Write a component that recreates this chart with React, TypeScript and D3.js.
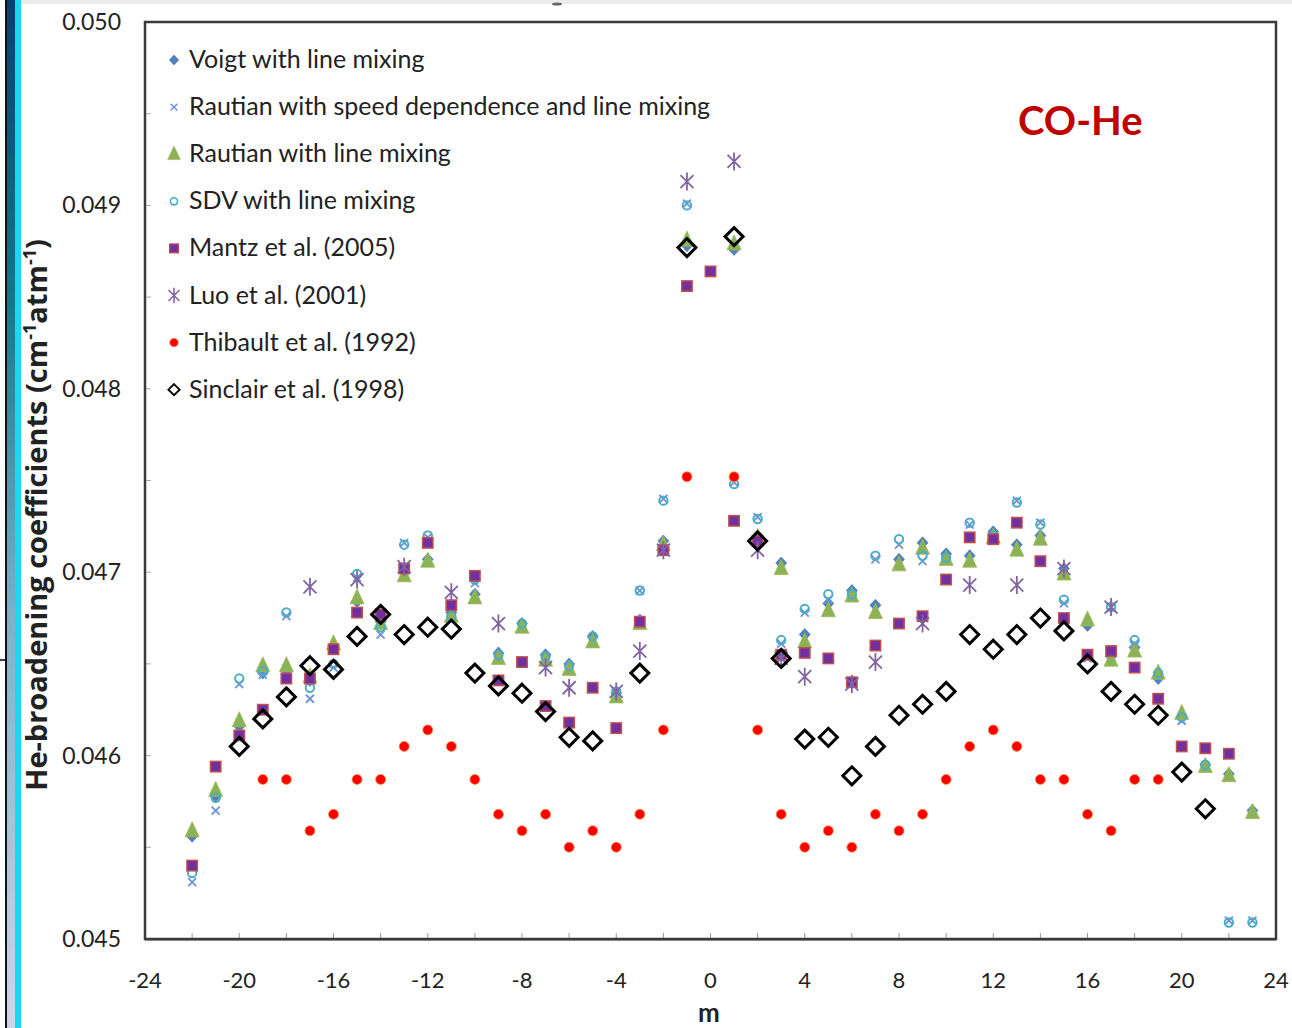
import React from "react";
import * as d3 from "d3";

// Rotational quantum number m and He-broadening coefficients (cm-1 atm-1)
type Pt = [number, number];

const voigt: Pt[] = [
  [-22, 0.04556], [-21, 0.04578], [-20, 0.04616], [-19, 0.04645], [-18, 0.04646], [-17, 0.04641],
  [-16, 0.04659], [-15, 0.04684], [-14, 0.04673], [-13, 0.047], [-12, 0.04707], [-11, 0.04678],
  [-10, 0.04688], [-9, 0.04656], [-8, 0.04672], [-7, 0.04655], [-6, 0.0465], [-5, 0.04665],
  [-4, 0.04634], [-3, 0.04674], [-2, 0.04717], [-1, 0.04878], [1, 0.04876], [2, 0.0472],
  [3, 0.04705], [4, 0.04666], [5, 0.04683], [6, 0.0469], [7, 0.04682], [8, 0.04707],
  [9, 0.04716], [10, 0.0471], [11, 0.04709], [12, 0.04722], [13, 0.04715], [14, 0.0472],
  [15, 0.04702], [16, 0.04671], [17, 0.04654], [18, 0.04659], [19, 0.04642], [20, 0.04621],
  [21, 0.04595], [22, 0.0459], [23, 0.0457],
];

const rautianSD: Pt[] = [
  [-22, 0.04531], [-21, 0.0457], [-20, 0.04639], [-19, 0.04644], [-18, 0.04676], [-17, 0.04631],
  [-16, 0.04648], [-15, 0.04697], [-14, 0.04666], [-13, 0.04716], [-12, 0.04719], [-11, 0.04674],
  [-10, 0.04694], [-9, 0.04653], [-8, 0.0467], [-7, 0.04652], [-6, 0.04647], [-5, 0.04663],
  [-4, 0.04633], [-3, 0.0469], [-2, 0.0474], [-1, 0.04901], [1, 0.04749], [2, 0.0473],
  [3, 0.04661], [4, 0.04678], [5, 0.04685], [6, 0.04686], [7, 0.04707], [8, 0.04715],
  [9, 0.04706], [10, 0.04706], [11, 0.04726], [12, 0.04718], [13, 0.04739], [14, 0.04727],
  [15, 0.04683], [16, 0.04653], [17, 0.04681], [18, 0.04661], [19, 0.04643], [20, 0.04619],
  [21, 0.04593], [22, 0.0451], [23, 0.0451],
];

const rautianLM: Pt[] = [
  [-22, 0.04559], [-21, 0.04581], [-20, 0.04619], [-19, 0.04649], [-18, 0.04649], [-17, 0.04643],
  [-16, 0.04661], [-15, 0.04686], [-14, 0.04672], [-13, 0.04698], [-12, 0.04706], [-11, 0.04676],
  [-10, 0.04686], [-9, 0.04653], [-8, 0.0467], [-7, 0.04652], [-6, 0.04647], [-5, 0.04662],
  [-4, 0.04632], [-3, 0.04672], [-2, 0.04715], [-1, 0.04881], [1, 0.04879], [2, 0.04719],
  [3, 0.04702], [4, 0.04662], [5, 0.04679], [6, 0.04687], [7, 0.04678], [8, 0.04704],
  [9, 0.04713], [10, 0.04707], [11, 0.04706], [12, 0.04719], [13, 0.04712], [14, 0.04718],
  [15, 0.04699], [16, 0.04674], [17, 0.04652], [18, 0.04657], [19, 0.04645], [20, 0.04623],
  [21, 0.04594], [22, 0.04589], [23, 0.04569],
];

const sdv: Pt[] = [
  [-22, 0.04536], [-21, 0.04577], [-20, 0.04642], [-19, 0.04646], [-18, 0.04678], [-17, 0.04637],
  [-16, 0.0465], [-15, 0.04699], [-14, 0.0467], [-13, 0.04715], [-12, 0.0472], [-11, 0.04676],
  [-10, 0.04696], [-9, 0.04655], [-8, 0.04672], [-7, 0.04654], [-6, 0.04649], [-5, 0.04665],
  [-4, 0.04635], [-3, 0.0469], [-2, 0.04739], [-1, 0.049], [1, 0.04748], [2, 0.04729],
  [3, 0.04663], [4, 0.0468], [5, 0.04688], [6, 0.04688], [7, 0.04709], [8, 0.04718],
  [9, 0.04709], [10, 0.04708], [11, 0.04727], [12, 0.0472], [13, 0.04738], [14, 0.04726],
  [15, 0.04685], [16, 0.04655], [17, 0.04681], [18, 0.04663], [19, 0.04645], [20, 0.04621],
  [21, 0.04595], [22, 0.04509], [23, 0.04509],
];

const mantz: Pt[] = [
  [-22, 0.0454], [-21, 0.04594], [-20, 0.04611], [-19, 0.04625], [-18, 0.04642], [-17, 0.04642],
  [-16, 0.04658], [-15, 0.04678], [-14, 0.04677], [-13, 0.04702], [-12, 0.04716], [-11, 0.04682],
  [-10, 0.04698], [-9, 0.04641], [-8, 0.04651], [-7, 0.04627], [-6, 0.04618], [-5, 0.04637],
  [-4, 0.04615], [-3, 0.04673], [-2, 0.04712], [-1, 0.04856], [0, 0.04864], [1, 0.04728],
  [2, 0.04717], [3, 0.04655], [4, 0.04656], [5, 0.04653], [6, 0.0464], [7, 0.0466],
  [8, 0.04672], [9, 0.04676], [10, 0.04696], [11, 0.04719], [12, 0.04718], [13, 0.04727],
  [14, 0.04706], [15, 0.04675], [16, 0.04655], [17, 0.04657], [18, 0.04648], [19, 0.04631],
  [20, 0.04605], [21, 0.04604], [22, 0.04601],
];

const luo: Pt[] = [
  [-17, 0.04692], [-15, 0.04696], [-13, 0.04703], [-11, 0.04689], [-9, 0.04672], [-7, 0.04648],
  [-6, 0.04637], [-4, 0.04635], [-3, 0.04657], [-2, 0.04712], [-1, 0.04913], [1, 0.04924],
  [2, 0.04712], [3, 0.04653], [4, 0.04643], [6, 0.04639], [7, 0.04651], [9, 0.04672],
  [11, 0.04693], [13, 0.04693], [15, 0.04702], [17, 0.04681],
];

const thibault: Pt[] = [
  [-19, 0.04587], [-18, 0.04587], [-17, 0.04559], [-16, 0.04568], [-15, 0.04587], [-14, 0.04587],
  [-13, 0.04605], [-12, 0.04614], [-11, 0.04605], [-10, 0.04587], [-9, 0.04568], [-8, 0.04559],
  [-7, 0.04568], [-6, 0.0455], [-5, 0.04559], [-4, 0.0455], [-3, 0.04568], [-2, 0.04614],
  [-1, 0.04752], [1, 0.04752], [2, 0.04614], [3, 0.04568], [4, 0.0455], [5, 0.04559],
  [6, 0.0455], [7, 0.04568], [8, 0.04559], [9, 0.04568], [10, 0.04587], [11, 0.04605],
  [12, 0.04614], [13, 0.04605], [14, 0.04587], [15, 0.04587], [16, 0.04568], [17, 0.04559],
  [18, 0.04587], [19, 0.04587],
];

const sinclair: Pt[] = [
  [-20, 0.04605], [-19, 0.0462], [-18, 0.04632], [-17, 0.04649], [-16, 0.04647], [-15, 0.04665],
  [-14, 0.04677], [-13, 0.04666], [-12, 0.0467], [-11, 0.04669], [-10, 0.04645], [-9, 0.04638],
  [-8, 0.04634], [-7, 0.04624], [-6, 0.0461], [-5, 0.04608], [-3, 0.04645], [-1, 0.04877],
  [1, 0.04883], [2, 0.04717], [3, 0.04653], [4, 0.04609], [5, 0.0461], [6, 0.04589],
  [7, 0.04605], [8, 0.04622], [9, 0.04628], [10, 0.04635], [11, 0.04666], [12, 0.04658],
  [13, 0.04666], [14, 0.04675], [15, 0.04668], [16, 0.0465], [17, 0.04635], [18, 0.04628],
  [19, 0.04622], [20, 0.04591], [21, 0.04571],
];

const xTicks = [-24, -20, -16, -12, -8, -4, 0, 4, 8, 12, 16, 20, 24];
const yTicks = [0.045, 0.046, 0.047, 0.048, 0.049, 0.05];

type Kind = "diamond" | "x" | "triangle" | "circle" | "square" | "asterisk" | "dot" | "openDiamond";

const seriesList: { name: string; data: Pt[]; kind: Kind }[] = [
  { name: "Voigt with line mixing", data: voigt, kind: "diamond" },
  { name: "Rautian with speed dependence and line mixing", data: rautianSD, kind: "x" },
  { name: "Rautian  with line mixing", data: rautianLM, kind: "triangle" },
  { name: "SDV with line mixing", data: sdv, kind: "circle" },
  { name: "Mantz et al. (2005)", data: mantz, kind: "square" },
  { name: "Luo et al. (2001)", data: luo, kind: "asterisk" },
  { name: "Thibault et al. (1992)", data: thibault, kind: "dot" },
  { name: "Sinclair et al. (1998)", data: sinclair, kind: "openDiamond" },
];

const FONT = "Lato, 'Open Sans', sans-serif";

function Marker({ kind, x, y, s = 1 }: { kind: Kind; x: number; y: number; s?: number }) {
  const t = `translate(${x},${y}) scale(${s})`;
  switch (kind) {
    case "diamond":
      return <path transform={t} d="M0,-6L5.5,0L0,6L-5.5,0Z" fill="#4F81BD" stroke="#3E6EB0" strokeWidth={0.6} />;
    case "x":
      return (
        <path transform={t} d="M-4,-4L4,4M-4,4L4,-4" stroke="#6F93D6" strokeWidth={1.8} fill="none" />
      );
    case "triangle":
      return <path transform={t} d="M0,-9L7,6L-7,6Z" fill="#8DB255" stroke="#9BBB59" strokeWidth={0.8} />;
    case "circle":
      return <circle transform={t} r={4.2} fill="none" stroke="#4BACC6" strokeWidth={2} />;
    case "square":
      return <rect transform={t} x={-5.2} y={-5.2} width={10.4} height={10.4} fill="#7030A0" stroke="#C0504D" strokeWidth={1.5} />;
    case "asterisk":
      return (
        <path
          transform={t}
          d="M-6.5,-6.5L6.5,6.5M-6.5,6.5L6.5,-6.5M0,-9L0,9"
          stroke="#8064A2"
          strokeWidth={1.8}
          fill="none"
        />
      );
    case "dot":
      return <circle transform={t} r={5} fill="#FF0000" stroke="#F79646" strokeWidth={0.8} />;
    case "openDiamond":
      return <path transform={t} d="M0,-9L9,0L0,9L-9,0Z" fill="none" stroke="#000" strokeWidth={3} />;
  }
}

export default function App() {
  const W = 1292;
  const H = 1028;
  const left = 145;
  const right = 1276;
  const top = 22;
  const bottom = 939;

  const x = d3.scaleLinear().domain([-24, 24]).range([left, right]);
  const y = d3.scaleLinear().domain([0.045, 0.05]).range([bottom, top]);

  const minorX = d3.range(-22, 24, 2);
  const minorY = d3.range(0, 11).map((i) => 0.045 + i * 0.0005);

  const legendY0 = 60;
  const legendStep = 47.1;

  return (
    <svg width={W} height={H} style={{ display: "block", position: "absolute", left: 0, top: 0 }}>
      <defs>
        <linearGradient id="sideBand" x1="0" y1="0" x2="0" y2="1">
          <stop offset="0" stopColor="#0B3E74" />
          <stop offset="0.3" stopColor="#137A8A" />
          <stop offset="0.6" stopColor="#7FB0C8" />
          <stop offset="1" stopColor="#C8D8EA" />
        </linearGradient>
      </defs>
      <rect x={0} y={0} width={W} height={H} fill="#fff" />
      {/* page edge decoration */}
      <rect x={20} y={0} width={W - 20} height={4} fill="#EBEBEB" />
      <rect x={5} y={0} width={2} height={H} fill="#111" />
      <rect x={7} y={0} width={8} height={H} fill="url(#sideBand)" />
      <rect x={15} y={0} width={6} height={H} fill="#1ED6EE" />
      <line x1={0} x2={6} y1={660} y2={660} stroke="#000" strokeWidth={1.5} />
      <ellipse cx={557} cy={4} rx={5} ry={1.5} fill="#666" />

      {/* minor ticks */}
      {minorX.map((m) => (
        <line key={`tx${m}`} x1={x(m)} x2={x(m)} y1={bottom} y2={bottom - 6} stroke="#999" strokeWidth={1} />
      ))}
      {minorY.map((v, i) => (
        <line key={`ty${i}`} x1={left} x2={left + 6} y1={y(v)} y2={y(v)} stroke="#aaa" strokeWidth={1} />
      ))}

      {/* plot frame */}
      <rect x={left} y={top} width={right - left} height={bottom - top} fill="none" stroke="#3A3A3A" strokeWidth={2.5} />
      <line x1={left} x2={right} y1={bottom + 1.5} y2={bottom + 1.5} stroke="#888" strokeWidth={1} />

      {/* axis labels */}
      {yTicks.map((v) => (
        <text key={`yl${v}`} x={121} y={y(v) + 8} textAnchor="end" fontFamily={FONT} fontSize={23} fill="#222">
          {v.toFixed(3)}
        </text>
      ))}
      {xTicks.map((m) => (
        <text key={`xl${m}`} x={x(m)} y={988} textAnchor="middle" fontFamily={FONT} fontSize={22} fill="#222">
          {m}
        </text>
      ))}
      <text x={709} y={1022} textAnchor="middle" fontFamily={FONT} fontSize={26} fontWeight="bold" fill="#222">
        m
      </text>
      <text
        transform="translate(47,515) rotate(-90)"
        textAnchor="middle"
        fontFamily="'Open Sans', sans-serif"
        fontSize={29}
        fontWeight="bold"
        fill="#222"
      >
        He-broadening coefficients (cm
        <tspan dy={-11} fontSize={18}>-1</tspan>
        <tspan dy={11}>atm</tspan>
        <tspan dy={-11} fontSize={18}>-1</tspan>
        <tspan dy={11}>)</tspan>
      </text>

      {/* data */}
      {seriesList.map((s) => (
        <g key={s.name}>
          {s.data.map(([m, v]) => (
            <Marker key={m} kind={s.kind} x={x(m)} y={y(v)} />
          ))}
        </g>
      ))}

      {/* legend */}
      {seriesList.map((s, i) => {
        const ly = legendY0 + i * legendStep;
        const small = s.kind === "openDiamond" ? 0.62 : s.kind === "triangle" ? 0.9 : 0.85;
        return (
          <g key={`lg${i}`}>
            <Marker kind={s.kind} x={174} y={ly} s={small} />
            <text x={189} y={ly + 8} fontFamily={FONT} fontSize={25} fill="#222">
              {s.name}
            </text>
          </g>
        );
      })}

      <text x={1018} y={135} fontFamily={FONT} fontSize={40} fontWeight="bold" fill="#C00000">
        CO-He
      </text>
    </svg>
  );
}
